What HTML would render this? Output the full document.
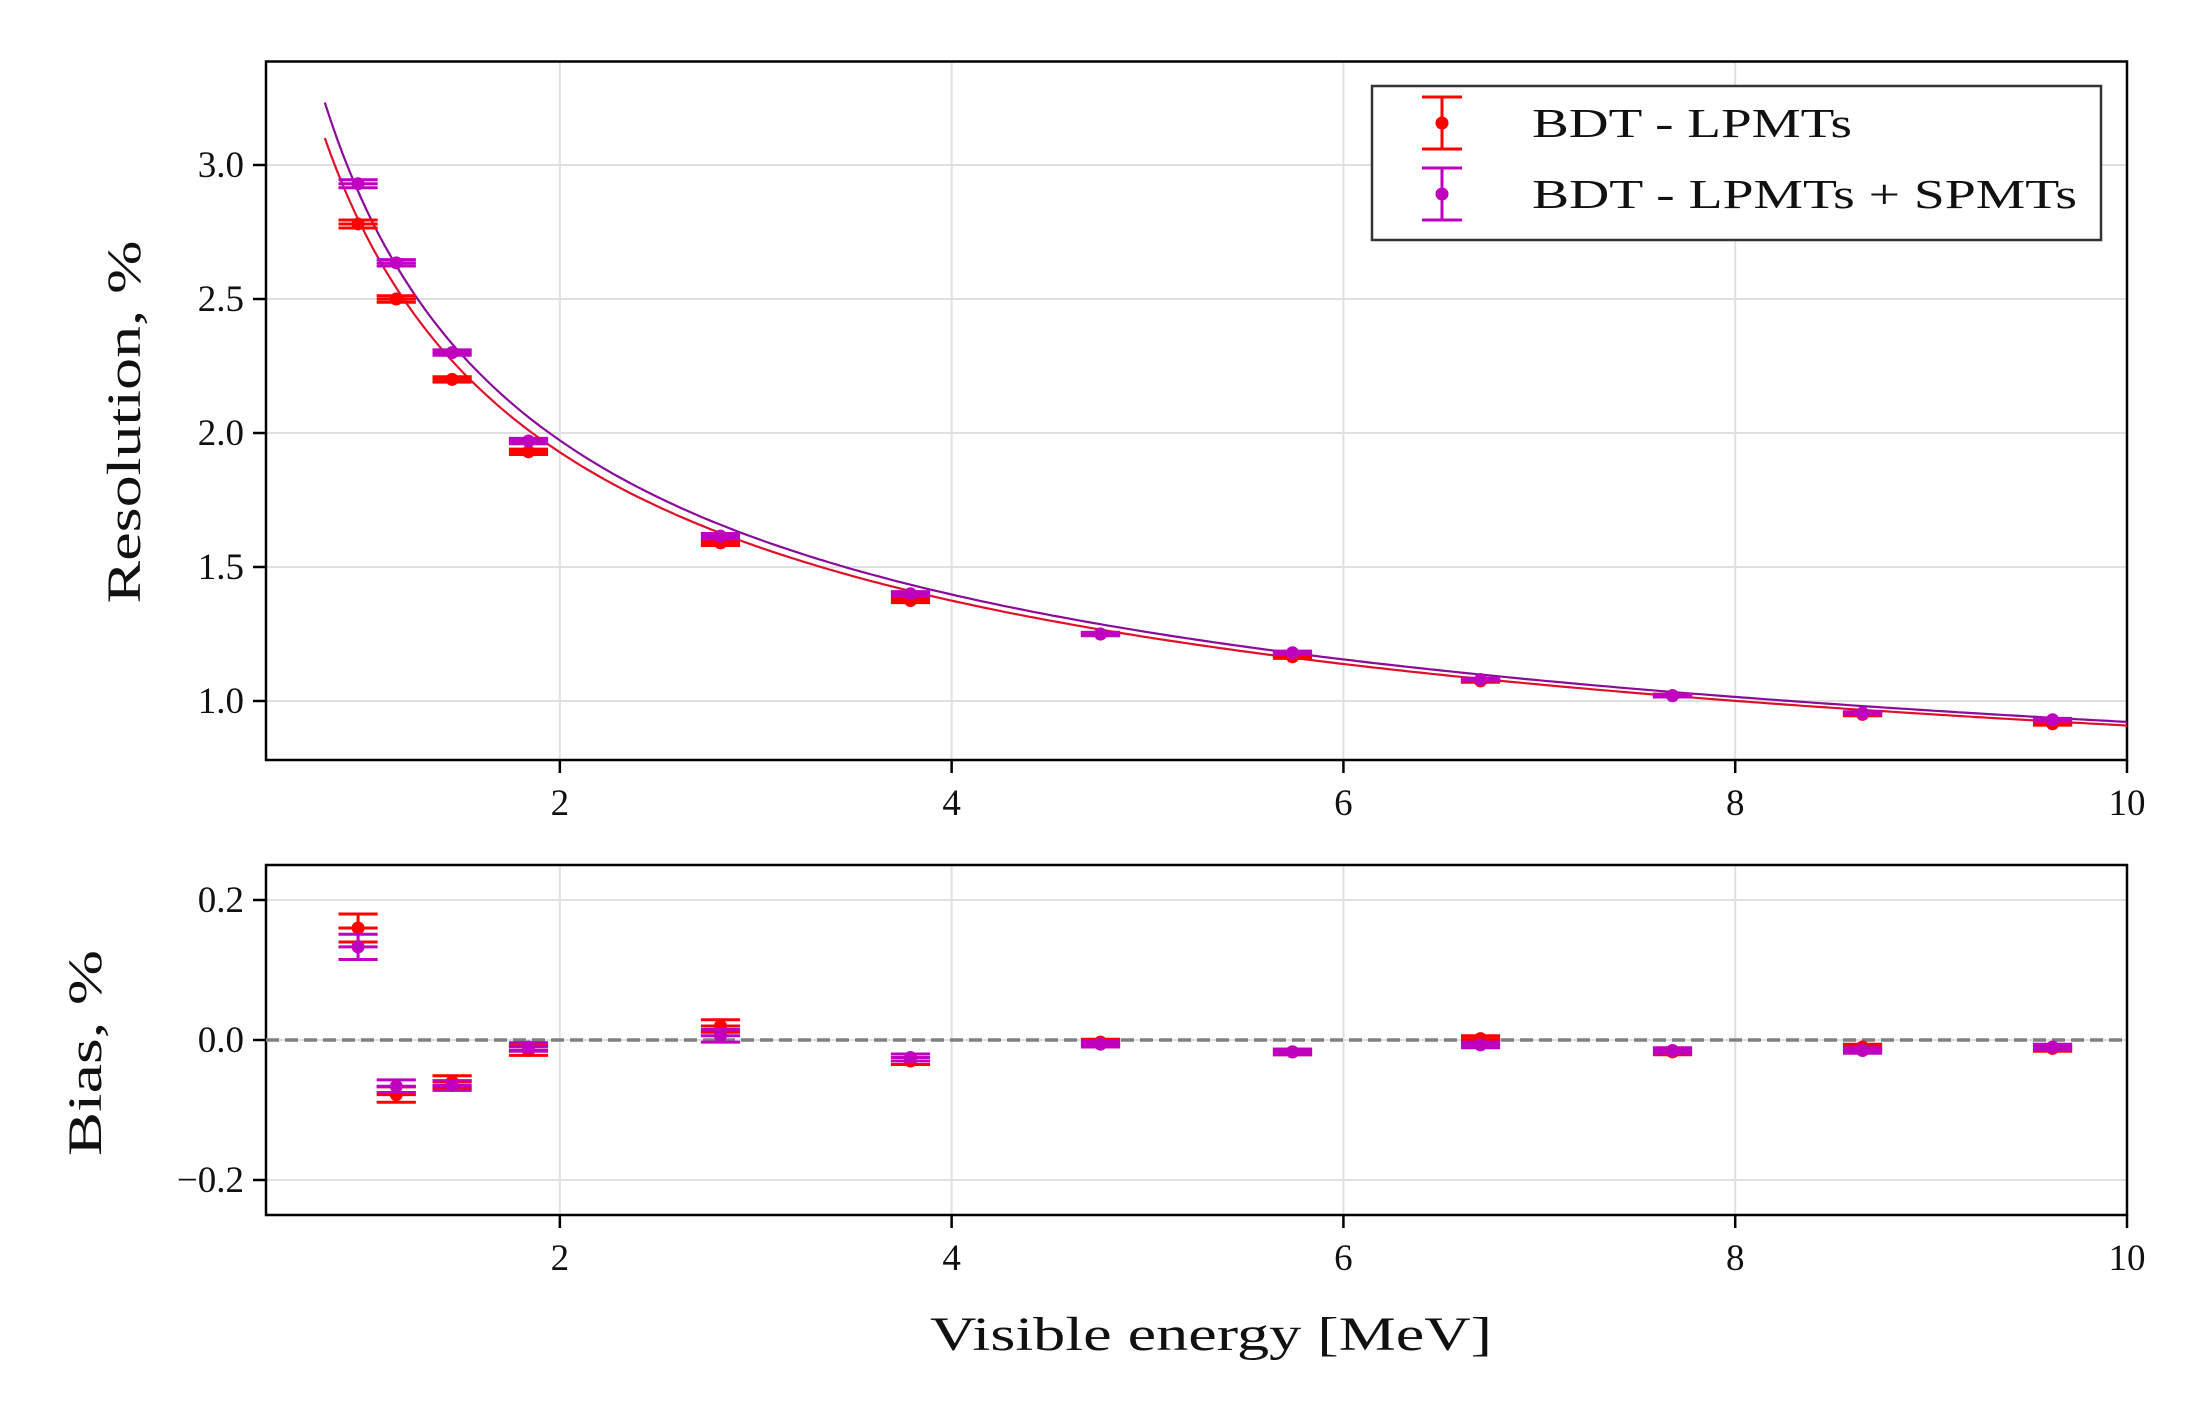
<!DOCTYPE html>
<html><head><meta charset="utf-8"><style>
html,body{margin:0;padding:0;background:#fff}
svg{display:block;font-family:"Liberation Serif","DejaVu Serif",serif}
</style></head><body>
<svg id="chart" width="2210" height="1427" viewBox="0 0 2210 1427" xmlns="http://www.w3.org/2000/svg">
<g id="topPanel"></g>
<g id="botPanel"></g>
<g id="legend">
<rect x="1372" y="86" width="729" height="154" fill="#fff" stroke="#333" stroke-width="2.5"/>
<g>
<line x1="1442" y1="97" x2="1442" y2="149" stroke="#ff0000" stroke-width="3"/>
<line x1="1422" y1="97" x2="1462" y2="97" stroke="#ff0000" stroke-width="3"/>
<line x1="1422" y1="149" x2="1462" y2="149" stroke="#ff0000" stroke-width="3"/>
<circle cx="1442" cy="123" r="6.5" fill="#ff0000"/>
<text x="1555" y="137" font-size="41" textLength="320" lengthAdjust="spacingAndGlyphs" fill="#111" transform="translate(-23,0)">BDT - LPMTs</text></g>
<g>
<line x1="1442" y1="168" x2="1442" y2="220" stroke="#bf00bf" stroke-width="3"/>
<line x1="1422" y1="168" x2="1462" y2="168" stroke="#bf00bf" stroke-width="3"/>
<line x1="1422" y1="220" x2="1462" y2="220" stroke="#bf00bf" stroke-width="3"/>
<circle cx="1442" cy="194" r="6.5" fill="#bf00bf"/>
<text x="1555" y="208" font-size="41" textLength="545" lengthAdjust="spacingAndGlyphs" fill="#111" transform="translate(-23,0)">BDT - LPMTs + SPMTs</text></g>
</g>
</svg>
<script>
const energies=[0.97,1.165,1.45,1.84,2.82,3.79,4.76,5.74,6.70,7.68,8.65,9.62];
const resRed=[2.78,2.50,2.20,1.93,1.59,1.375,1.25,1.165,1.075,1.02,0.95,0.915];
const resPurple=[2.93,2.635,2.30,1.97,1.615,1.40,1.25,1.18,1.08,1.02,0.955,0.93];
const resErrRed=[0.015,0.012,0.01,0.01,0.01,0.008,0.006,0.006,0.005,0.005,0.005,0.005];
const resErrPurple=[0.015,0.012,0.01,0.01,0.01,0.008,0.006,0.006,0.005,0.005,0.005,0.005];
const biasRed=[0.16,-0.078,-0.06,-0.015,0.02,-0.03,-0.003,-0.017,0.002,-0.017,-0.01,-0.012];
const biasPurple=[0.133,-0.066,-0.065,-0.01,0.006,-0.025,-0.006,-0.017,-0.007,-0.015,-0.015,-0.01];
const biasErrRed=[0.02,0.011,0.009,0.007,0.009,0.005,0.004,0.004,0.004,0.004,0.004,0.004];
const biasErrPurple=[0.018,0.009,0.007,0.006,0.009,0.005,0.004,0.004,0.004,0.004,0.004,0.004];
const fitRed=[6.9,0.13,0.55];
const fitPurple=[7.0,0.14,1.0];
const xTicks=[2,4,6,8,10];
const topTicks=[1.0,1.5,2.0,2.5,3.0];
const topTickLabels=["1.0","1.5","2.0","2.5","3.0"];
const botTicks=[-0.2,0,0.2];
const botTickLabels=["\u22120.2","0.0","0.2"];
const xErr=0.1;

const NS="http://www.w3.org/2000/svg";
const L=266,R=2127;
const X=v=>L+(v-0.5)*(R-L)/9.5;
const TT=61.5,TB=760,BT=865,BB=1215;
const YT=v=>165+(3.0-v)*268;
const YB=v=>1040-v*700;
function mk(p,tag,a){const e=document.createElementNS(NS,tag);for(const k in a)e.setAttribute(k,a[k]);p.appendChild(e);return e;}
const topG=document.getElementById('topPanel'),botG=document.getElementById('botPanel');

function panel(g,yt,yb,Y,ticks,labels,name){
  xTicks.forEach(t=>{const l=mk(g,'line',{x1:X(t),x2:X(t),y1:yt,y2:yb,stroke:'#e0e0e0','stroke-width':2});
    });
  ticks.forEach(t=>{const l=mk(g,'line',{x1:L,x2:R,y1:Y(t),y2:Y(t),stroke:'#e0e0e0','stroke-width':2});
    });
  const f=mk(g,'rect',{x:L,y:yt,width:R-L,height:yb-yt,fill:'none',stroke:'#000','stroke-width':2.5});
  
  xTicks.forEach(t=>{mk(g,'line',{x1:X(t),x2:X(t),y1:yb,y2:yb+13,stroke:'#000','stroke-width':2.5});
    const tx=mk(g,'text',{x:X(t),y:yb+55,'font-size':37,'text-anchor':'middle',fill:'#111'});tx.textContent=String(t);
    });
  ticks.forEach((t,i)=>{mk(g,'line',{x1:L-13,x2:L,y1:Y(t),y2:Y(t),stroke:'#000','stroke-width':2.5});
    const tx=mk(g,'text',{x:L-22,y:Y(t)+12,'font-size':37,'text-anchor':'end',fill:'#111'});tx.textContent=labels[i];
    });
}
panel(topG,TT,TB,YT,topTicks,topTickLabels,'resolution');
panel(botG,BT,BB,YB,botTicks,botTickLabels,'bias');

function curve(p,col,nm){let d='';for(let i=0;i<=300;i++){const e=0.8+i*(10-0.8)/300;
  const v=Math.sqrt(p[0]/e+p[1]+p[2]/(e*e));d+=(i?'L':'M')+X(e).toFixed(1)+','+YT(v).toFixed(1);}
  const c=mk(topG,'path',{d:d,fill:'none',stroke:col,'stroke-width':2.2});
  }
curve(fitRed,'#e0102a','fit-curve-lpmts');
curve(fitPurple,'#8a0a9a','fit-curve-lpmts-spmts');

function pts(g,Y,vals,errs,col,nm){
  const gg=mk(g,'g',{});
  energies.forEach((e,i)=>{const x=X(e),y=Y(vals[i]),y1=Y(vals[i]+errs[i]),y2=Y(vals[i]-errs[i]);
    const x1=X(e-xErr),x2=X(e+xErr);
    mk(gg,'line',{x1:x1,x2:x2,y1:y,y2:y,stroke:col,'stroke-width':3});
    mk(gg,'line',{x1:x,x2:x,y1:y1,y2:y2,stroke:col,'stroke-width':3});
    mk(gg,'line',{x1:x1,x2:x2,y1:y1,y2:y1,stroke:col,'stroke-width':3});
    mk(gg,'line',{x1:x1,x2:x2,y1:y2,y2:y2,stroke:col,'stroke-width':3});
    const c=mk(gg,'circle',{cx:x,cy:y,r:6.5,fill:col});
    });
}
pts(topG,YT,resRed,resErrRed,'#ff0000','resolution-points-lpmts');
pts(topG,YT,resPurple,resErrPurple,'#bf00bf','resolution-points-lpmts-spmts');
const z=mk(botG,'line',{x1:L,x2:R,y1:YB(0),y2:YB(0),stroke:'#808080','stroke-width':3.5,'stroke-dasharray':'13,6'});

pts(botG,YB,biasRed,biasErrRed,'#ff0000','bias-points-lpmts');
pts(botG,YB,biasPurple,biasErrPurple,'#bf00bf','bias-points-lpmts-spmts');

const svg=document.getElementById('chart');
let t=mk(svg,'text',{x:1211,y:1350,'font-size':48,'text-anchor':'middle',fill:'#111',textLength:562,lengthAdjust:'spacingAndGlyphs'});t.textContent='Visible energy [MeV]';

t=mk(svg,'text',{x:0,y:0,'font-size':48,'text-anchor':'middle',fill:'#111',textLength:363,lengthAdjust:'spacingAndGlyphs',transform:'translate(140,422) rotate(-90)'});t.textContent='Resolution, %';

t=mk(svg,'text',{x:0,y:0,'font-size':48,'text-anchor':'middle',fill:'#111',textLength:206,lengthAdjust:'spacingAndGlyphs',transform:'translate(101,1053) rotate(-90)'});t.textContent='Bias, %';

svg.appendChild(document.getElementById('legend'));
</script>
</body></html>
